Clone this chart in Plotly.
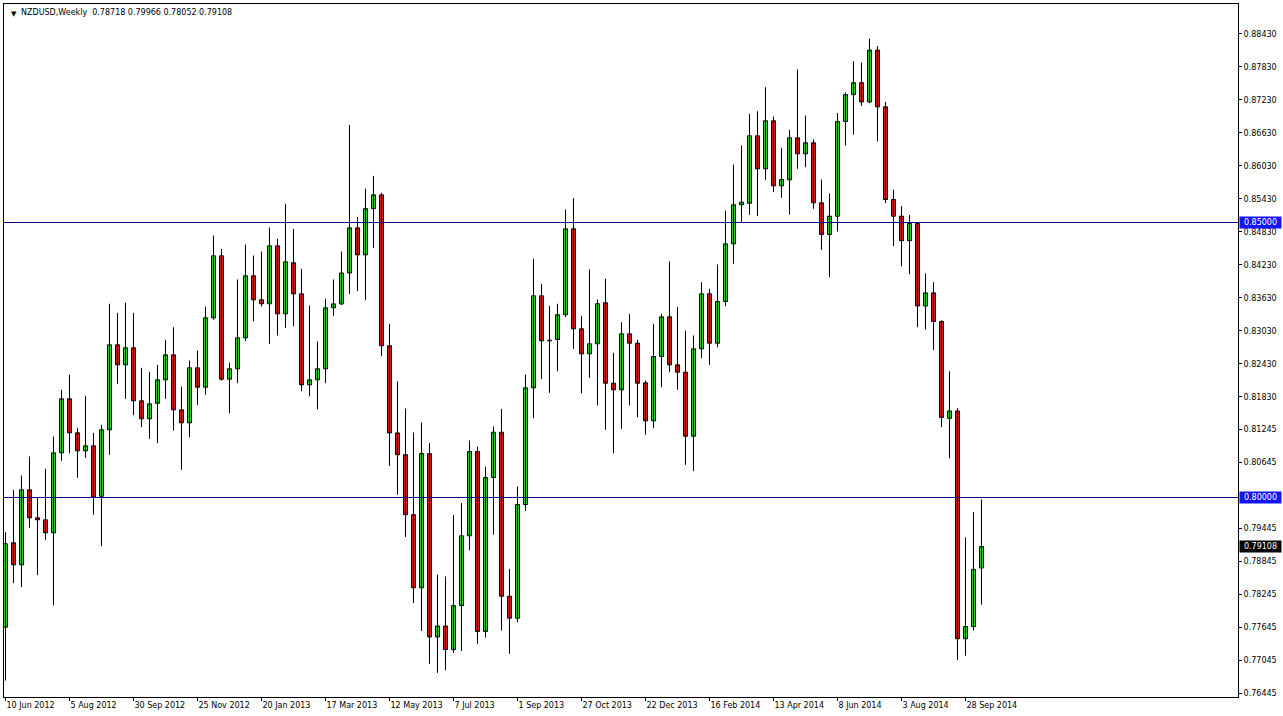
import pandas as pd
import plotly.graph_objects as go

# ---------------- data (NZDUSD weekly) ----------------
first_week = "2012-06-10"

open_ = [0.77642, 0.79176, 0.78776, 0.80140, 0.79631, 0.79594, 0.79358, 0.80812, 0.81794, 0.81176,
         0.80849, 0.80940, 0.80023, 0.81231, 0.82776, 0.82412, 0.82722, 0.81758, 0.81431, 0.81712,
         0.82140, 0.82594, 0.81594, 0.81358, 0.82358, 0.82005, 0.83267, 0.84394, 0.82151, 0.82340,
         0.82903, 0.84031, 0.83594, 0.83522, 0.84576, 0.83340, 0.84267, 0.83703, 0.82049, 0.82140,
         0.82340, 0.83449, 0.83520, 0.84082, 0.84902, 0.84412, 0.85252, 0.85503, 0.82760, 0.81174,
         0.80778, 0.79687, 0.78358, 0.80798, 0.77465, 0.77663, 0.77234, 0.78034, 0.79303, 0.80836,
         0.77565, 0.80362, 0.81187, 0.78205, 0.77805, 0.79872, 0.81994, 0.83667, 0.82849, 0.82872,
         0.83322, 0.84885, 0.83067, 0.82612, 0.82794, 0.83540, 0.82078, 0.81958, 0.82976, 0.82805,
         0.82085, 0.81394, 0.82563, 0.83285, 0.82412, 0.82278, 0.81114, 0.82703, 0.83703, 0.82805,
         0.83563, 0.84612, 0.85322, 0.85350, 0.86576, 0.85976, 0.86849, 0.85667, 0.85776, 0.86540,
         0.86249, 0.86449, 0.85358, 0.84782, 0.85115, 0.86836, 0.87325, 0.87542, 0.87192, 0.88134,
         0.87103, 0.85418, 0.85115, 0.84669, 0.84980, 0.83482, 0.83720, 0.83200, 0.81440, 0.81574,
         0.77432, 0.77654, 0.78718]

high_ = [0.79369, 0.80140, 0.80400, 0.80745, 0.79994, 0.80522, 0.81109, 0.81958, 0.82231, 0.81267,
         0.81849, 0.81176, 0.81322, 0.83522, 0.83358, 0.83540, 0.83358, 0.82358, 0.82285, 0.82412,
         0.82867, 0.83096, 0.82018, 0.82491, 0.82672, 0.83472, 0.84763, 0.84522, 0.82454, 0.83963,
         0.84600, 0.84400, 0.84472, 0.84909, 0.84703, 0.85340, 0.84885, 0.84158, 0.83490, 0.82836,
         0.83612, 0.83963, 0.84472, 0.86772, 0.85100, 0.85614, 0.85847, 0.85540, 0.83156, 0.82112,
         0.81616, 0.81180, 0.81365, 0.80989, 0.78596, 0.78563, 0.79680, 0.79898, 0.81036, 0.80923,
         0.80560, 0.81287, 0.81612, 0.78703, 0.80200, 0.82236, 0.84340, 0.83885, 0.83485, 0.83522,
         0.85236, 0.85442, 0.83303, 0.84145, 0.83600, 0.83976, 0.82631, 0.83187, 0.83340, 0.82867,
         0.82127, 0.83158, 0.83340, 0.84291, 0.83460, 0.83036, 0.82945, 0.83914, 0.83794, 0.84236,
         0.85218, 0.86054, 0.86400, 0.86976, 0.87023, 0.87460, 0.86927, 0.86358, 0.86685, 0.87782,
         0.86945, 0.86509, 0.85782, 0.85527, 0.86992, 0.87363, 0.87934, 0.87912, 0.88342, 0.88209,
         0.87192, 0.85596, 0.85300, 0.85136, 0.85004, 0.84074, 0.83913, 0.83222, 0.82294, 0.81625,
         0.79274, 0.79734, 0.79966]

low_ = [0.76672, 0.78442, 0.78369, 0.79449, 0.78587, 0.79231, 0.78036, 0.80667, 0.80805, 0.80358,
        0.80722, 0.79685, 0.79114, 0.80776, 0.82067, 0.81794, 0.81496, 0.81278, 0.81067, 0.80987,
        0.81794, 0.81218, 0.80503, 0.81096, 0.81685, 0.81867, 0.83231, 0.82127, 0.81532, 0.82078,
        0.82842, 0.83205, 0.83472, 0.82794, 0.82945, 0.83085, 0.83114, 0.81932, 0.81841, 0.81605,
        0.82078, 0.83300, 0.83500, 0.83698, 0.83751, 0.83587, 0.84538, 0.82569, 0.80572, 0.80051,
        0.79283, 0.78080, 0.77572, 0.76976, 0.76812, 0.76858, 0.77174, 0.77209, 0.79040, 0.77340,
        0.77452, 0.79323, 0.77582, 0.77158, 0.77732, 0.79751, 0.81442, 0.82151, 0.81903, 0.82296,
        0.83278, 0.82703, 0.81896, 0.82176, 0.81672, 0.81231, 0.80805, 0.81249, 0.81672, 0.81460,
        0.81140, 0.81260, 0.82005, 0.82278, 0.81958, 0.80594, 0.80478, 0.82532, 0.82412, 0.82732,
        0.83478, 0.84249, 0.84995, 0.85140, 0.85115, 0.85776, 0.85551, 0.85449, 0.85145, 0.85976,
        0.86005, 0.85249, 0.84503, 0.84007, 0.84836, 0.86398, 0.86598, 0.87118, 0.87169, 0.86472,
        0.85351, 0.84572, 0.84202, 0.84060, 0.83096, 0.83051, 0.82680, 0.81278, 0.80712, 0.77047,
        0.77122, 0.77582, 0.78052]

close_ = [0.79158, 0.78776, 0.80140, 0.79631, 0.79594, 0.79358, 0.80812, 0.81794, 0.81176, 0.80849,
          0.80940, 0.80005, 0.81231, 0.82776, 0.82412, 0.82722, 0.81758, 0.81431, 0.81703, 0.82140,
          0.82594, 0.81594, 0.81358, 0.82358, 0.82005, 0.83267, 0.84394, 0.82151, 0.82340, 0.82903,
          0.84031, 0.83594, 0.83522, 0.84576, 0.83340, 0.84285, 0.83703, 0.82049, 0.82140, 0.82340,
          0.83449, 0.83520, 0.84082, 0.84902, 0.84412, 0.85252, 0.85503, 0.82760, 0.81174, 0.80778,
          0.79687, 0.78358, 0.80798, 0.77465, 0.77663, 0.77234, 0.78034, 0.79303, 0.80836, 0.77565,
          0.80362, 0.81187, 0.78205, 0.77805, 0.79872, 0.81994, 0.83667, 0.82849, 0.82860, 0.83322,
          0.84885, 0.83067, 0.82612, 0.82794, 0.83522, 0.82078, 0.81958, 0.82976, 0.82805, 0.82078,
          0.81394, 0.82563, 0.83285, 0.82412, 0.82278, 0.81114, 0.82703, 0.83703, 0.82805, 0.83563,
          0.84612, 0.85322, 0.85369, 0.86576, 0.85976, 0.86849, 0.85667, 0.85782, 0.86540, 0.86249,
          0.86449, 0.85358, 0.84782, 0.85115, 0.86836, 0.87325, 0.87542, 0.87192, 0.88134, 0.87103,
          0.85418, 0.85115, 0.84669, 0.84980, 0.83482, 0.83720, 0.83200, 0.81456, 0.81574, 0.77432,
          0.77654, 0.78694, 0.79108]

x_tick_dates = ["2012-06-10", "2012-08-05", "2012-09-30", "2012-11-25", "2013-01-20", "2013-03-17",
                "2013-05-12", "2013-07-07", "2013-09-01", "2013-10-27", "2013-12-22", "2014-02-16",
                "2014-04-13", "2014-06-08", "2014-08-03", "2014-09-28"]
x_tick_labels = ["10 Jun 2012", "5 Aug 2012", "30 Sep 2012", "25 Nov 2012", "20 Jan 2013", "17 Mar 2013",
                 "12 May 2013", "7 Jul 2013", "1 Sep 2013", "27 Oct 2013", "22 Dec 2013", "16 Feb 2014",
                 "13 Apr 2014", "8 Jun 2014", "3 Aug 2014", "28 Sep 2014"]

y_ticks = [0.88430, 0.87830, 0.87230, 0.86630, 0.86030, 0.85430, 0.84830, 0.84230, 0.83630, 0.83030,
           0.82430, 0.81830, 0.81245, 0.80645, 0.79445, 0.78845, 0.78245, 0.77645, 0.77045, 0.76445]
y_tick_labels = ["%.5f" % v for v in y_ticks]

level_lines = [0.85000, 0.80000]
last_price = 0.79108
symbol_title = "NZDUSD,Weekly"

# ---------------- figure ----------------
dates = list(pd.date_range(first_week, periods=len(close_), freq="7D"))
d0 = pd.Timestamp(first_week)

FONT = "DejaVu Sans"
GREEN = "#33cc33"
RED = "#cc2222"
NAVY = "#000080"

# wicks: one vertical segment per week from high to low (bodies are drawn on top)
wick_x, wick_y = [], []
for d, h, l in zip(dates, high_, low_):
    wick_x += [d, d, None]
    wick_y += [h, l, None]

body_base = [min(o, c) for o, c in zip(open_, close_)]
body_len = [abs(c - o) for o, c in zip(open_, close_)]
body_col = [GREEN if c > o else RED for o, c in zip(open_, close_)]

fig = go.Figure()
fig.add_trace(go.Scatter(x=wick_x, y=wick_y, mode="lines", line=dict(color="black", width=1),
                         hoverinfo="skip", showlegend=False))
fig.add_trace(go.Bar(x=dates, y=body_len, base=body_base, width=3.5 * 86400000,
                     marker=dict(color=body_col, line=dict(color="black", width=1)),
                     hoverinfo="skip", showlegend=False))

# 8 px per week, 5500 px per price unit; half-pixel offsets keep 1px lines crisp
x_start = d0 - pd.Timedelta(hours=31.5)
x_end = x_start + pd.Timedelta(days=1079.75)
ymax = 0.889727
ymin = ymax - 693 / 5500.0

shapes = [dict(type="line", xref="paper", x0=0, x1=1, yref="y", y0=v, y1=v,
               line=dict(color=NAVY, width=1)) for v in level_lines]

annotations = [
    dict(xref="paper", yref="paper", x=0, y=1, xanchor="left", yanchor="top",
         xshift=5, yshift=-4, text="\u25BC", showarrow=False,
         font=dict(family=FONT, size=7, color="black")),
    dict(xref="paper", yref="paper", x=0, y=1, xanchor="left", yanchor="top",
         xshift=15, yshift=-2,
         text=symbol_title + "\u00a0\u00a0" + " ".join("%.5f" % v for v in
                                                      [open_[-1], high_[-1], low_[-1], close_[-1]]),
         showarrow=False, font=dict(family=FONT, size=8, color="black")),
]
for v in level_lines:
    annotations.append(dict(xref="paper", yref="y", x=1, y=v, xanchor="left", yanchor="middle",
                            xshift=1, text="%.5f" % v, showarrow=False, width=41, height=11,
                            align="center", bgcolor="#1414ff", borderpad=0,
                            font=dict(family=FONT, size=8, color="white")))
annotations.append(dict(xref="paper", yref="y", x=1, y=last_price, xanchor="left", yanchor="middle",
                        xshift=1, text="%.5f" % last_price, showarrow=False, width=41, height=11,
                        align="center", bgcolor="black", borderpad=0,
                        font=dict(family=FONT, size=8, color="white")))

fig.update_layout(
    width=1283, height=716,
    margin=dict(l=4, r=45, t=4, b=19, pad=0),
    paper_bgcolor="white", plot_bgcolor="white",
    shapes=shapes, annotations=annotations,
    font=dict(family=FONT, size=8, color="black"),
    xaxis=dict(
        type="date",
        range=[x_start, x_end],
        showgrid=False, zeroline=False,
        showline=True, linecolor="black", linewidth=1, mirror=True,
        ticks="outside", ticklen=3, tickcolor="black",
        tickvals=x_tick_dates, ticktext=x_tick_labels,
        ticklabelposition="outside right",
        tickfont=dict(family=FONT, size=8, color="black"),
        fixedrange=True,
    ),
    yaxis=dict(
        side="right", range=[ymin, ymax],
        showgrid=False, zeroline=False,
        showline=True, linecolor="black", linewidth=1, mirror=True,
        ticks="outside", ticklen=3, tickcolor="black",
        tickvals=y_ticks, ticktext=y_tick_labels,
        tickfont=dict(family=FONT, size=8, color="black"),
        fixedrange=True,
    ),
)

fig.write_html(
    "out.html",
    config={"displayModeBar": False},
    post_script="document.body.style.margin='0';document.body.style.padding='0';"
                "document.body.style.overflow='hidden';",
)
